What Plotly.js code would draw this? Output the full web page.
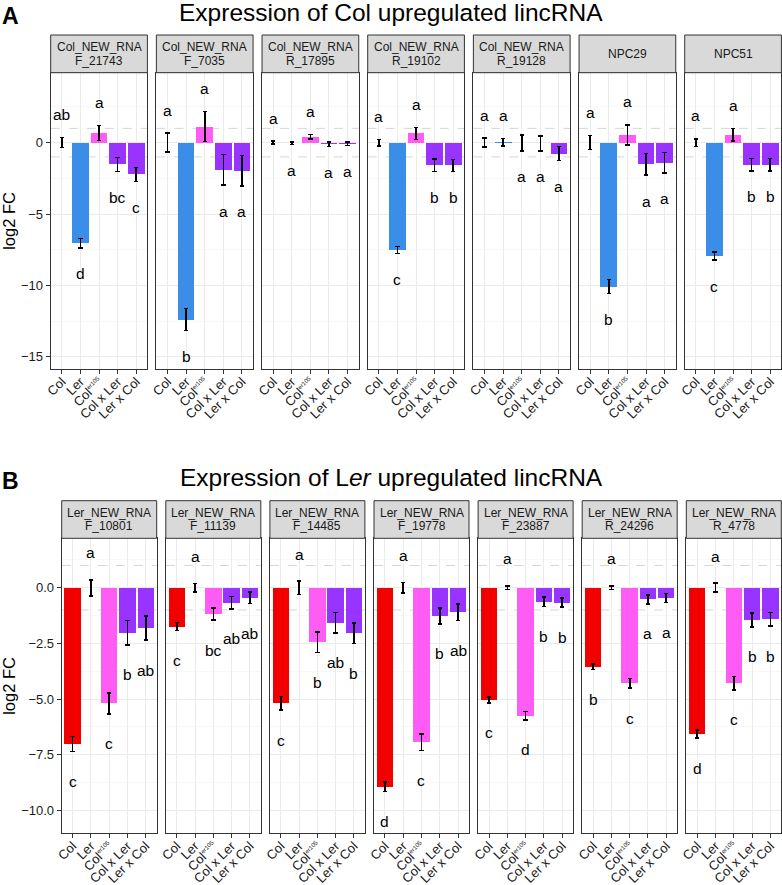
<!DOCTYPE html>
<html>
<head>
<meta charset="utf-8">
<script src="https://cdn.plot.ly/plotly-3.0.1.min.js"></script>
<style>
  body { margin: 0; background: #fff; }
  #grafico { width: 782px; height: 885px; }
</style>
</head>
<body>
<div id="grafico"></div>
<script>
// genotipos (eje x de cada panel)
const genotipos = ['Col', 'Ler', 'Col<sup><span style="font-size:6px">er105</span></sup>', 'Col x Ler', 'Ler x Col'];
const coloresGenotipo = ['#F20000', '#3A8EE8', '#FF5CF5', '#9933FF', '#9933FF'];

// panel A: lincRNA sobreexpresados en Col
const nombresA = ['Col_NEW_RNA\nF_21743', 'Col_NEW_RNA\nF_7035', 'Col_NEW_RNA\nR_17895', 'Col_NEW_RNA\nR_19102',
  'Col_NEW_RNA\nR_19128', 'NPC29', 'NPC51'];
const mediasA = [
  [0, -7.05, 0.68, -1.52, -2.22],
  [0, -12.4, 1.12, -1.91, -1.96],
  [0, -0.05, 0.42, -0.12, -0.08],
  [0, -7.52, 0.65, -1.59, -1.59],
  [0, 0.02, -0.02, -0.05, -0.77],
  [0, -10.09, 0.54, -1.52, -1.4],
  [0, -7.96, 0.56, -1.54, -1.54]
];
const errA = [
  [0.35, 0.32, 0.52, 0.49, 0.49],
  [0.66, 0.77, 1.05, 1.07, 1.07],
  [0.1, 0.08, 0.15, 0.15, 0.13],
  [0.23, 0.25, 0.42, 0.43, 0.42],
  [0.32, 0.26, 0.55, 0.52, 0.49],
  [0.49, 0.49, 0.7, 0.75, 0.72],
  [0.26, 0.28, 0.44, 0.44, 0.44]
];
const letrasA = [
  ['ab', 'd', 'a', 'bc', 'c'],
  ['a', 'b', 'a', 'a', 'a'],
  ['a', 'a', 'a', 'a', 'a'],
  ['a', 'c', 'a', 'b', 'b'],
  ['a', 'a', 'a', 'a', 'a'],
  ['a', 'b', 'a', 'a', 'a'],
  ['a', 'c', 'a', 'b', 'b']
];

// panel B: lincRNA sobreexpresados en Ler
const nombresB = ['Ler_NEW_RNA\nF_10801', 'Ler_NEW_RNA\nF_11139', 'Ler_NEW_RNA\nF_14485', 'Ler_NEW_RNA\nF_19778',
  'Ler_NEW_RNA\nF_23887', 'Ler_NEW_RNA\nR_24296', 'Ler_NEW_RNA\nR_4778'];
const mediasB = [
  [-7.02, 0, -5.19, -2.02, -1.82],
  [-1.75, 0, -1.18, -0.67, -0.45],
  [-5.19, 0, -2.45, -1.57, -2.05],
  [-8.94, 0, -6.94, -1.27, -1.1],
  [-5.04, 0, -5.75, -0.63, -0.67],
  [-3.55, 0, -4.29, -0.52, -0.46],
  [-6.57, 0, -4.29, -1.45, -1.42]
];
const errB = [
  [0.34, 0.36, 0.47, 0.54, 0.54],
  [0.18, 0.19, 0.28, 0.28, 0.26],
  [0.31, 0.3, 0.46, 0.46, 0.46],
  [0.22, 0.24, 0.37, 0.35, 0.37],
  [0.13, 0.08, 0.19, 0.21, 0.2],
  [0.12, 0.08, 0.22, 0.2, 0.2],
  [0.19, 0.2, 0.3, 0.31, 0.31]
];
const letrasB = [
  ['c', 'a', 'c', 'b', 'ab'],
  ['c', 'a', 'bc', 'ab', 'ab'],
  ['c', 'a', 'b', 'ab', 'b'],
  ['d', 'a', 'c', 'b', 'ab'],
  ['c', 'a', 'd', 'b', 'b'],
  ['b', 'a', 'c', 'a', 'a'],
  ['d', 'a', 'c', 'b', 'b']
];

const W = 782, H = 885;
const px = v => v / W;
const py = v => 1 - v / H;

const filas = [
  { nombres: nombresA, medias: mediasA, err: errA, letras: letrasA,
    izq: 50.7, paso: 105.67, ancho: 96.7, tira: 35, arriba: 72.7, abajo: 369,
    rango: [-15.86, 4.9], dtick: 5, minor: 2.5, formato: 'd', sArriba: 23, sAbajo: -26 },
  { nombres: nombresB, medias: mediasB, err: errB, letras: letrasB,
    izq: 61.7, paso: 104.1, ancho: 95, tira: 500.7, arriba: 538.3, abajo: 833.3,
    rango: [-11.03, 2.22], dtick: 2.5, minor: 1.25, formato: '.1f', sArriba: 27, sAbajo: -30 }
];

const trazos = [];
const shapes = [];
const anotaciones = [];
const layout = {
  width: W, height: H,
  margin: { l: 0, r: 0, t: 0, b: 0 },
  paper_bgcolor: '#fff', plot_bgcolor: '#fff',
  showlegend: false,
  font: { family: 'Liberation Sans, Arial, sans-serif', color: '#1a1a1a' },
  bargap: 0
};

filas.forEach((f, r) => {
  for (let p = 0; p < 7; p++) {
    const idx = r * 7 + p + 1;
    const xa = idx === 1 ? 'x' : 'x' + idx;
    const ya = idx === 1 ? 'y' : 'y' + idx;
    const x0 = f.izq + p * f.paso;
    const x1 = x0 + f.ancho;

    trazos.push({
      type: 'bar', x: genotipos, y: f.medias[p], xaxis: xa, yaxis: ya,
      width: 0.9,
      marker: { color: coloresGenotipo, line: { width: 0 } },
      error_y: { type: 'data', array: f.err[p], color: '#000', thickness: 1.6, width: 2.2 },
      hoverinfo: 'skip'
    });

    layout[idx === 1 ? 'xaxis' : 'xaxis' + idx] = {
      domain: [px(x0), px(x1)], anchor: ya,
      type: 'category', categoryorder: 'array', categoryarray: genotipos,
      range: [-0.6, 4.6],
      showgrid: true, gridcolor: '#EBEBEB', gridwidth: 1,
      showline: true, linecolor: '#333', linewidth: 1, mirror: true,
      ticks: 'outside', ticklen: 4, tickcolor: '#333', tickangle: -45,
      ticklabelstandoff: -5,
      tickfont: { size: 13, color: '#1a1a1a' }, zeroline: false, fixedrange: true
    };
    layout[idx === 1 ? 'yaxis' : 'yaxis' + idx] = {
      domain: [py(f.abajo), py(f.arriba)], anchor: xa,
      range: f.rango, tick0: 0, dtick: f.dtick, tickformat: f.formato,
      showgrid: true, gridcolor: '#EBEBEB', gridwidth: 1,
      minor: { dtick: f.minor, tick0: 0, showgrid: true, gridcolor: '#F3F3F3', gridwidth: 0.6 },
      showline: true, linecolor: '#333', linewidth: 1, mirror: true,
      ticks: p === 0 ? 'outside' : '', ticklen: 4, tickcolor: '#333',
      showticklabels: p === 0, tickfont: { size: 13, color: '#1a1a1a' },
      zeroline: false, fixedrange: true
    };

    // lineas de referencia en +-1
    [1, -1].forEach(v => shapes.push({
      type: 'line', xref: xa + ' domain', x0: 0, x1: 1, yref: ya, y0: v, y1: v,
      line: { color: '#D6D6D6', width: 1, dash: 'dash' }, layer: 'below'
    }));

    // tira con el nombre del lincRNA
    shapes.push({
      type: 'rect', xref: 'paper', yref: 'paper',
      x0: px(x0), x1: px(x1), y0: py(f.arriba), y1: py(f.tira),
      fillcolor: '#D9D9D9', line: { color: '#333', width: 1 }
    });
    const lineas = f.nombres[p].split('\n');
    const centro = (f.tira + f.arriba) / 2;
    lineas.forEach((t, k) => {
      const desp = (k - (lineas.length - 1) / 2) * 13.4;
      anotaciones.push({
        xref: 'paper', yref: 'paper', x: px((x0 + x1) / 2), y: py(centro + desp),
        text: t, showarrow: false, font: { size: 12, color: '#1a1a1a' },
        xanchor: 'center', yanchor: 'middle'
      });
    });

    // letras de significancia
    genotipos.forEach((g, j) => {
      const m = f.medias[p][j], e = f.err[p][j];
      const arriba = m >= 0;
      anotaciones.push({
        xref: xa, yref: ya, x: g, y: arriba ? m + e : m - e,
        yshift: arriba ? f.sArriba : f.sAbajo,
        text: f.letras[p][j], showarrow: false,
        font: { size: 15.5, color: '#000' }, xanchor: 'center', yanchor: 'middle'
      });
    });
  }

  anotaciones.push({
    xref: 'paper', yref: 'paper', x: px(9), y: py((f.arriba + f.abajo) / 2),
    text: 'log2 FC', textangle: -90, showarrow: false,
    font: { size: 16.5, color: '#000' }, xanchor: 'center', yanchor: 'middle'
  });
});

// titulos y letras de panel
anotaciones.push(
  { xref: 'paper', yref: 'paper', x: 0.5, y: py(12), text: 'Expression of Col upregulated lincRNA',
    showarrow: false, font: { size: 24.5, color: '#000' }, xanchor: 'center', yanchor: 'middle' },
  { xref: 'paper', yref: 'paper', x: 0.5, y: py(477), text: 'Expression of L<i>er</i> upregulated lincRNA',
    showarrow: false, font: { size: 24.5, color: '#000' }, xanchor: 'center', yanchor: 'middle' },
  { xref: 'paper', yref: 'paper', x: px(0), y: py(1), text: '<b>A</b>',
    showarrow: false, font: { size: 23, color: '#000' }, xanchor: 'left', yanchor: 'top' },
  { xref: 'paper', yref: 'paper', x: px(0), y: py(481), text: '<b>B</b>',
    showarrow: false, font: { size: 23, color: '#000' }, xanchor: 'left', yanchor: 'middle' }
);

layout.shapes = shapes;
layout.annotations = anotaciones;

Plotly.newPlot('grafico', trazos, layout, { staticPlot: true });
</script>
</body>
</html>
